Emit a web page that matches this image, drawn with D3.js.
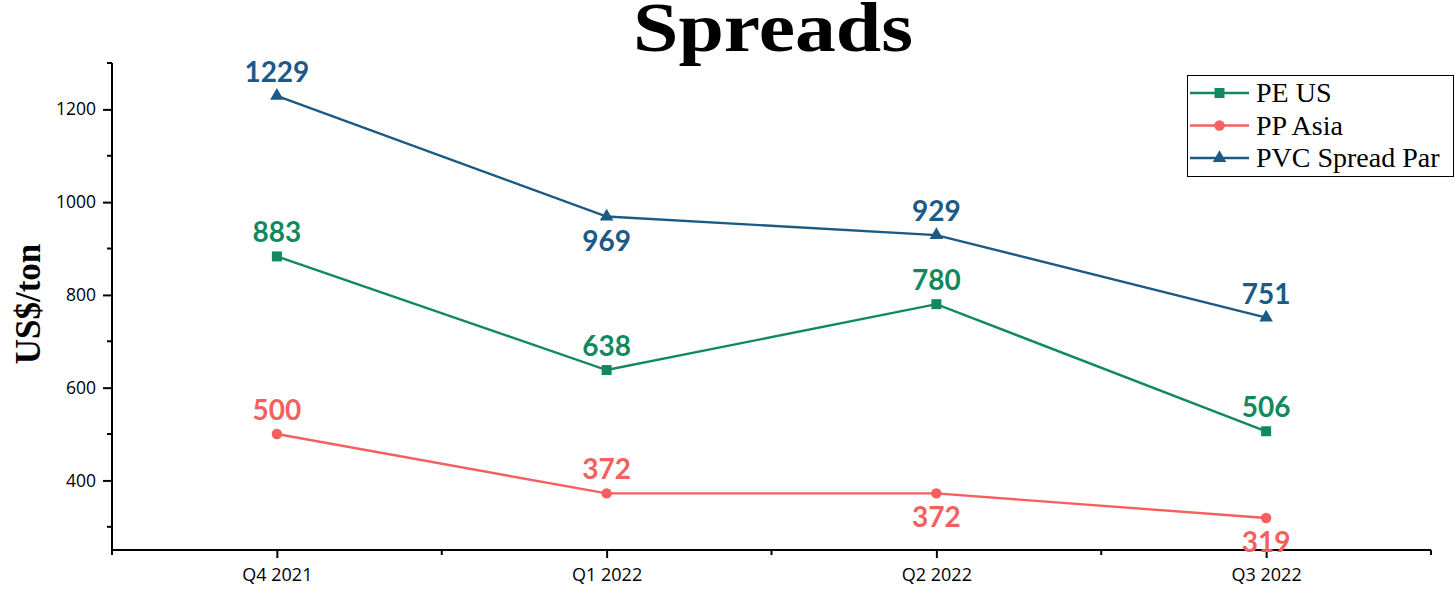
<!DOCTYPE html>
<html><head><meta charset="utf-8">
<script src="https://cdn.jsdelivr.net/npm/d3@7"></script>
<style>body{margin:0;background:#fff}</style>
</head><body>
<svg id="c" width="1456" height="593"></svg>
<script>
const categories = ["Q4 2021","Q1 2022","Q2 2022","Q3 2022"];
const peUS = [883, 638, 780, 506];
const ppAsia = [500, 372, 372, 319];
const pvcSpread = [1229, 969, 929, 751];
const seriesNames = ["PE US","PP Asia","PVC Spread Par"];
const yTicks = [400, 600, 800, 1000, 1200];
// label placement: 1 = above, -1 = below
const pePlace = [1,1,1,1];
const ppPlace = [1,1,-1,-1];
const pvcPlace = [1,-1,1,1];

const colors = ["#11895f","#f55f5e","#1b5a84"];
const series = [
  {name: seriesNames[0], values: peUS, place: pePlace, color: colors[0], symbol: d3.symbolSquare, size: 100},
  {name: seriesNames[1], values: ppAsia, place: ppPlace, color: colors[1], symbol: d3.symbolCircle, size: 85},
  {name: seriesNames[2], values: pvcSpread, place: pvcPlace, color: colors[2], symbol: d3.symbolTriangle, size: 80}
];

const svg = d3.select("#c");
const L = 112, R = 1431, T = 63, B = 550;
const x = d3.scalePoint().domain(categories).range([L, R]).padding(0.5);
const y = d3.scaleLinear().domain([250, 1300]).range([B, T]);

// title
svg.append("text").attr("x", 633).attr("y", 51)
  .attr("font-family","Liberation Serif, Times New Roman, serif").attr("font-weight","bold")
  .attr("font-size", 70).attr("textLength", 280).attr("lengthAdjust","spacingAndGlyphs").text("Spreads");

// y label
svg.append("text").attr("transform","translate(40,304) rotate(-90)").attr("text-anchor","middle")
  .attr("font-family","Liberation Serif, Times New Roman, serif").attr("font-weight","bold")
  .attr("font-size", 35).text("US$/ton");

// y axis
const yAxis = d3.axisLeft(y).tickValues(yTicks).tickFormat(d3.format("d")).tickSize(9).tickPadding(7).tickSizeOuter(0);
const gy = svg.append("g").attr("transform",`translate(${L},0)`).call(yAxis);
gy.selectAll(".tick line").attr("stroke-width",2);
gy.select(".domain").attr("stroke-width",2);
gy.selectAll("text").attr("font-family","Open Sans, sans-serif").attr("font-size",17.5).attr("fill","#000");
// minor y ticks
const yMinor = d3.range(300, 1301, 200);
gy.selectAll(".minor").data(yMinor).enter().append("line").attr("class","minor")
  .attr("x1",-5).attr("x2",0).attr("y1",d=>y(d)).attr("y2",d=>y(d)).attr("stroke","#000").attr("stroke-width",2);
gy.select(".domain").attr("d", `M0,${T}V${B+1}`);

// x axis
const xAxis = d3.axisBottom(x).tickSize(8).tickPadding(10).tickSizeOuter(0);
const gx = svg.append("g").attr("transform",`translate(0,${B})`).call(xAxis);
gx.select(".domain").attr("stroke-width",2).attr("d", `M${L-1},0H${R}`);
gx.selectAll(".tick line").attr("stroke-width",2);
gx.selectAll("text").attr("font-family","Open Sans, sans-serif").attr("font-size",18).attr("fill","#000");
const step = x.step();
const xMinor = [x(categories[0]) - step/2].concat(categories.map(c => x(c) + step/2));
gx.selectAll(".minor").data(xMinor).enter().append("line").attr("class","minor")
  .attr("x1",d=>d).attr("x2",d=>d).attr("y1",0).attr("y2",5).attr("stroke","#000").attr("stroke-width",2);

// lines
const line = d3.line().x((d,i)=>x(categories[i])).y(d=>y(d));
series.forEach(s => {
  svg.append("path").datum(s.values).attr("d", line).attr("fill","none")
    .attr("stroke", s.color).attr("stroke-width", 2.4);
  svg.selectAll(null).data(s.values).enter().append("path")
    .attr("transform",(d,i)=>`translate(${x(categories[i])},${y(d)})`)
    .attr("d", d3.symbol().type(s.symbol).size(s.size)).attr("fill", s.color);
  svg.selectAll(null).data(s.values).enter().append("text")
    .attr("x",(d,i)=>x(categories[i]))
    .attr("y",(d,i)=> s.place[i] > 0 ? y(d) - 14 : y(d) + 34)
    .attr("text-anchor","middle").attr("font-family","Lato, Open Sans, sans-serif")
    .attr("font-weight","bold").attr("font-size",28).attr("fill", s.color).text(d=>d);
});

// legend
const lg = svg.append("g");
lg.append("rect").attr("x",1187.5).attr("y",75.5).attr("width",266).attr("height",101)
  .attr("fill","#fff").attr("stroke","#000").attr("stroke-width",1);
series.forEach((s, i) => {
  const cy = 93 + i*32.5;
  lg.append("line").attr("x1",1190).attr("x2",1249).attr("y1",cy).attr("y2",cy)
    .attr("stroke", s.color).attr("stroke-width",2.4);
  lg.append("path").attr("transform",`translate(1219.5,${cy})`)
    .attr("d", d3.symbol().type(s.symbol).size(s.size)).attr("fill", s.color);
  lg.append("text").attr("x",1256).attr("y",cy+9).attr("font-family","Liberation Serif, Times New Roman, serif")
    .attr("font-size",28).attr("fill","#000").text(s.name);
});
</script>
</body></html>
